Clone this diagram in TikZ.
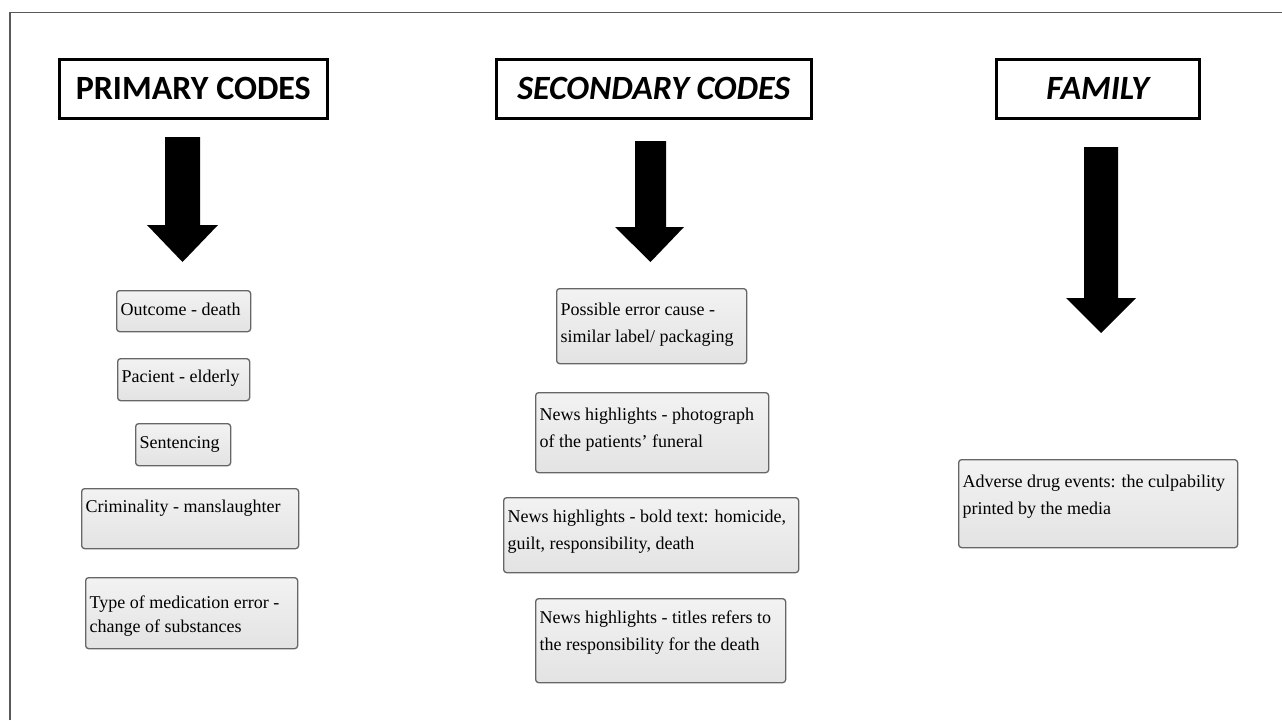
\documentclass[tikz,border=0pt]{standalone}
\usepackage{fontspec}
\setmainfont{Liberation Serif}
\newfontfamily\headfont{Carlito}
\usetikzlibrary{shadings}
\newcommand\bx[5]{\parbox[c][#2pt][t]{#1pt}{\raggedright\leftskip=4pt\fontsize{18}{#4}\selectfont\rule{0pt}{#3pt}#5}}
\begin{document}
\begin{tikzpicture}[x=1pt,y=-1pt,
  head/.style={draw=black, line width=2.5pt, fill=white, anchor=north west, inner sep=0pt,
    font=\headfont\bfseries\fontsize{34}{40}\selectfont},
  cbox/.style={draw=black!60, line width=1.3pt, rounded corners=3pt, top color=black!5,
    bottom color=black!11, anchor=north west, inner sep=0pt},
  blockarrow/.style={fill=black},
  frameline/.style={draw=black!65, line width=1.4pt}]
\useasboundingbox (0,0) rectangle (1282,720);
\fill[white] (0,0) rectangle (1282,720);
\draw[frameline] (10,720) -- (10,12.5) -- (1282,12.5);

% headers
\node[head, minimum width=268pt, minimum height=59pt] (pc) at (58,58) {PRIMARY CODES};
\node[head, minimum width=315pt, minimum height=59pt] (sc) at (495,58) {\itshape SECONDARY CODES};
\node[head, minimum width=203pt, minimum height=59pt] (fam) at (995,58) {\itshape FAMILY};

% block arrows
\fill[blockarrow] (165,137) -- (200,137) -- (200,225) -- (218,225) -- (182.5,262) -- (147,225) -- (165,225) -- cycle;
\fill[blockarrow] (635,141) -- (666,141) -- (666,227) -- (684,227) -- (650.5,262) -- (615,227) -- (635,227) -- cycle;
\fill[blockarrow] (1084,147) -- (1118,147) -- (1118,298) -- (1136,298) -- (1101,333) -- (1066,298) -- (1084,298) -- cycle;

% primary codes
\node[cbox] (p1) at (116,290) {\bx{134}{41}{25}{24}{Outcome - death}};
\node[cbox] (p2) at (117,358) {\bx{132}{42}{24}{24}{Pacient - elderly}};
\node[cbox] (p3) at (135,423) {\bx{95}{42}{25}{24}{Sentencing}};
\node[cbox] (p4) at (81,488) {\bx{217}{60}{24}{24}{Criminality - manslaughter}};
\node[cbox] (p5) at (85,577) {\bx{212}{71}{31}{24}{Type of medication error -\\change of substances}};

% secondary codes
\node[cbox] (s1) at (556,288) {\bx{190}{75}{27}{27}{Possible error cause -\\similar label/ packaging}};
\node[cbox] (s2) at (535,392) {\bx{233}{80}{28}{27}{News highlights - photograph\\of the patients' funeral}};
\node[cbox] (s3) at (503,497) {\bx{295}{75}{25}{27}{News highlights - bold text: homicide,\\guilt, responsibility, death}};
\node[cbox] (s4) at (535,598) {\bx{250}{84}{25}{27}{News highlights - titles refers to\\the responsibility for the death}};

% family
\node[cbox] (f1) at (958,459) {\bx{279}{88}{28}{27}{Adverse drug events: the culpability\\printed by the media}};
\end{tikzpicture}
\end{document}
